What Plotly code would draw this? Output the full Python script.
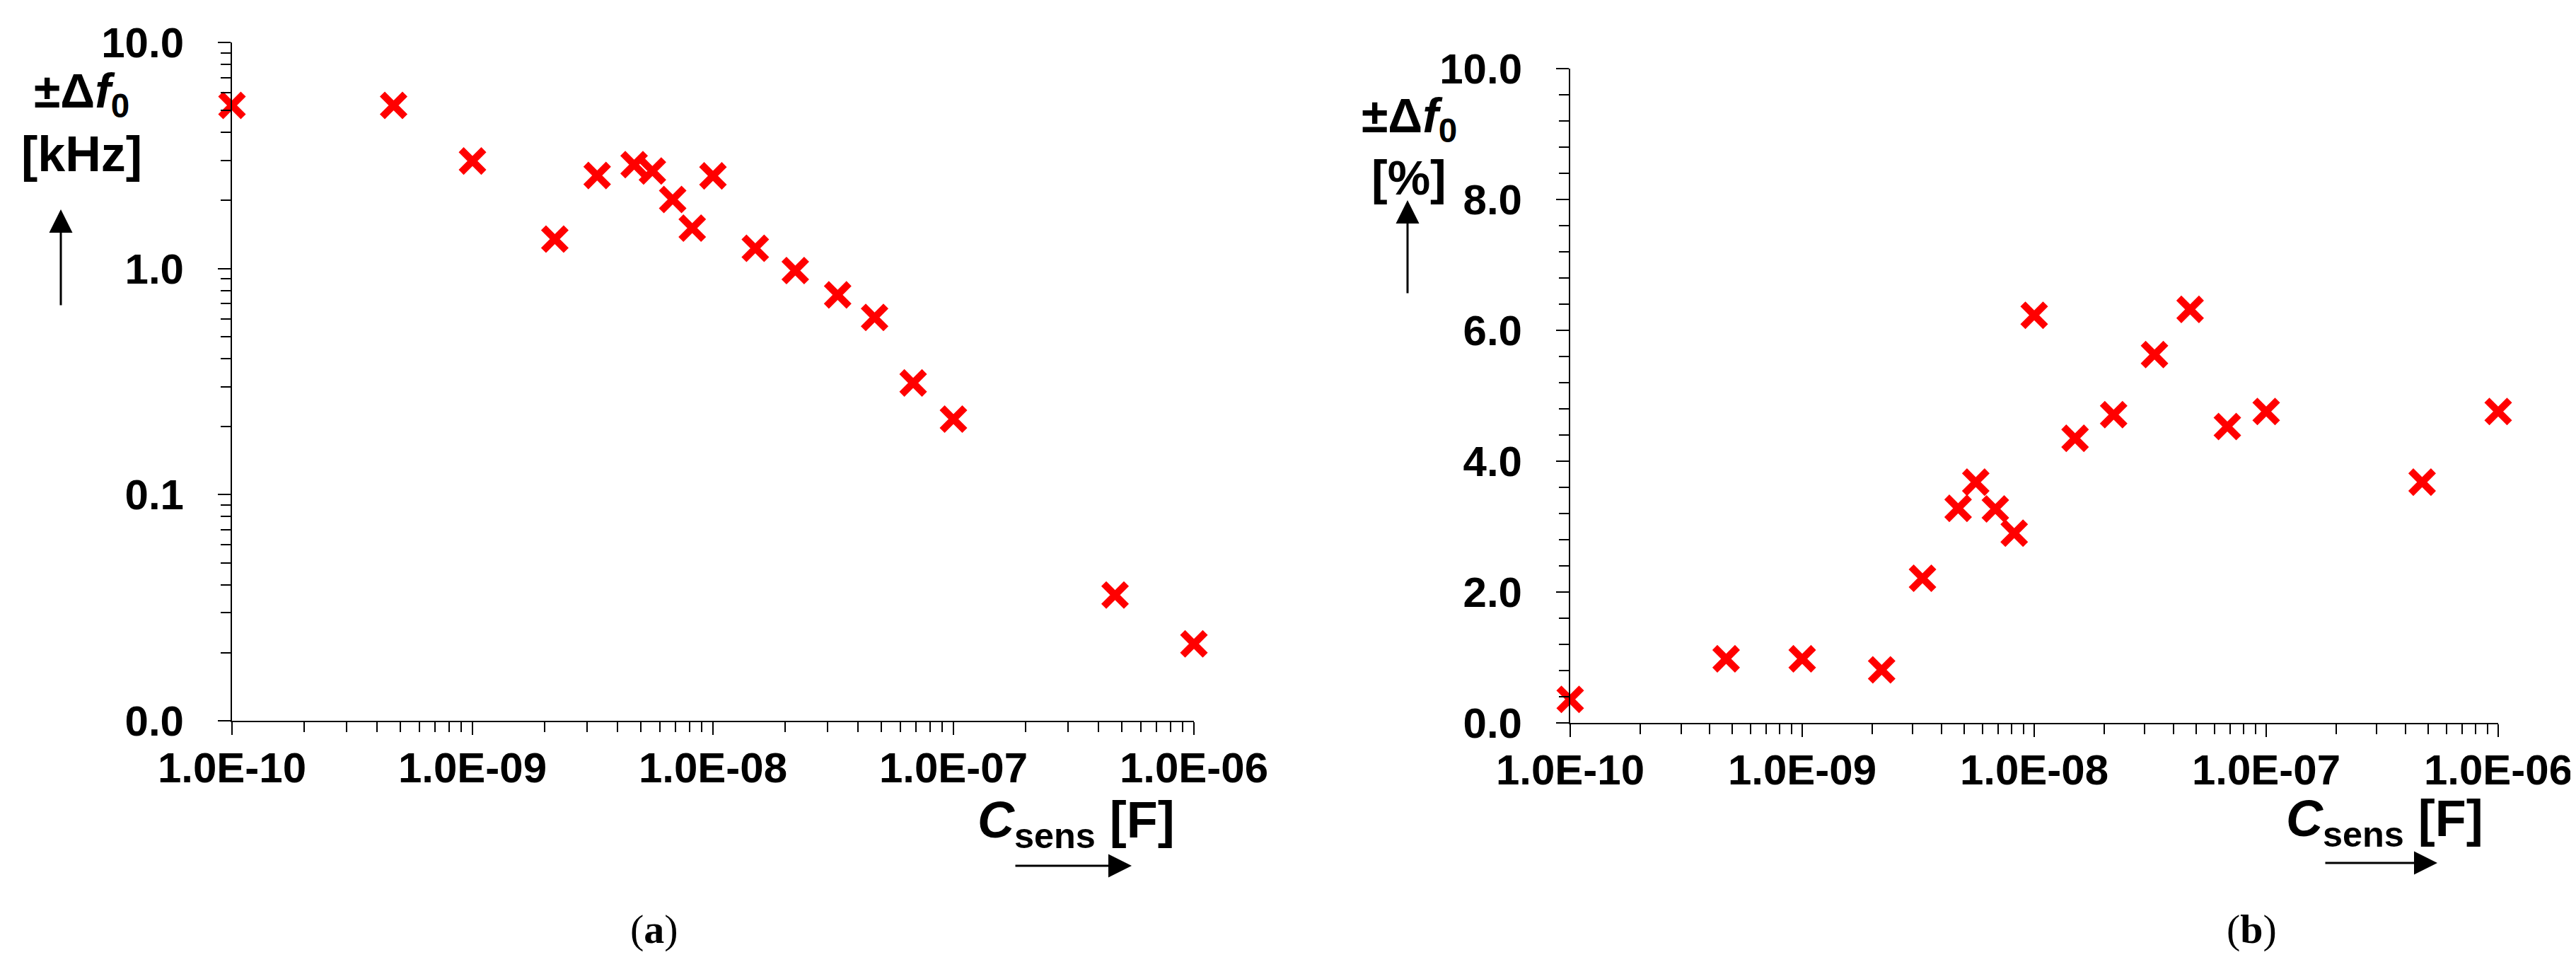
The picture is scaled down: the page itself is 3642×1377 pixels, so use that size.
import plotly.graph_objects as go

# Sensor capacitance values (same for both panels)
c_sens = [1e-10, 4.7e-10, 1e-9, 2.2e-9, 3.3e-9, 4.7e-9, 5.6e-9, 6.8e-9, 8.2e-9,
          1e-8, 1.5e-8, 2.2e-8, 3.3e-8, 4.7e-8, 6.8e-8, 1e-7, 4.7e-7, 1e-6]

# (a) frequency deviation in kHz
df_khz = [5.27, 5.27, 2.99, 1.35, 2.58, 2.88, 2.70, 2.02, 1.51,
          2.57, 1.23, 0.98, 0.765, 0.608, 0.312, 0.216, 0.036, 0.0219]

# (b) frequency deviation in %
df_pct = [0.36, 0.98, 0.98, 0.81, 2.21, 3.28, 3.68, 3.27, 2.90,
          6.23, 4.35, 4.71, 5.63, 6.32, 4.53, 4.76, 3.68, 4.76]

x_tickvals = [1e-10, 1e-9, 1e-8, 1e-7, 1e-6]
x_ticktext = ["1.0E-10", "1.0E-09", "1.0E-08", "1.0E-07", "1.0E-06"]
ya_tickvals = [0.01, 0.1, 1, 10]
ya_ticktext = ["0.0", "0.1", "1.0", "10.0"]

W, H = 3642, 1377
FONT = "Liberation Sans, Arial, sans-serif"
TICKFONT = dict(family=FONT, size=60, color="black", weight="bold")


def px_x(v):
    return v / W


def px_y(v):
    return 1 - v / H


marker = dict(symbol="x-thin", size=32, color="red",
              line=dict(color="red", width=10))

fig = go.Figure()
fig.add_trace(go.Scatter(x=c_sens, y=df_khz, mode="markers", marker=marker,
                         xaxis="x", yaxis="y", showlegend=False, cliponaxis=False))
fig.add_trace(go.Scatter(x=c_sens, y=df_pct, mode="markers", marker=marker,
                         xaxis="x2", yaxis="y2", showlegend=False, cliponaxis=False))

# common axis styling
axis_common = dict(
    showline=True, linecolor="black", linewidth=2,
    ticks="outside", ticklen=18, tickwidth=2, tickcolor="black",
    showgrid=False, zeroline=False, tickfont=TICKFONT, automargin=False,
)
minor_log = dict(ticks="outside", ticklen=14, tickwidth=2, tickcolor="black",
                 dtick="D1", showgrid=False)

# tiny pad on the upper end so the 1e-6 point is not culled
x_range = [-10, -5.99999]

fig.update_layout(
    width=W, height=H,
    margin=dict(l=0, r=0, t=0, b=0),
    paper_bgcolor="white", plot_bgcolor="white",
    xaxis=dict(axis_common, type="log", range=x_range,
               domain=[px_x(320), px_x(1680)], anchor="y",
               tickmode="array", tickvals=x_tickvals, ticktext=x_ticktext,
               minor=minor_log, ticklabelstandoff=-5),
    yaxis=dict(axis_common, type="log", range=[-2, 1],
               domain=[px_y(1011), px_y(52)], anchor="x",
               tickmode="array", tickvals=ya_tickvals, ticktext=ya_ticktext,
               minor=minor_log, ticklabelstandoff=36),
    xaxis2=dict(axis_common, type="log", range=x_range,
                domain=[px_x(2212), px_x(3524)], anchor="y2",
                tickmode="array", tickvals=x_tickvals, ticktext=x_ticktext,
                minor=minor_log, ticklabelstandoff=-5),
    yaxis2=dict(axis_common, range=[0, 10],
                domain=[px_y(1014), px_y(89)], anchor="x2",
                dtick=2, tickformat=".1f",
                minor=dict(ticks="outside", ticklen=14, tickwidth=2,
                           tickcolor="black", dtick=0.4, showgrid=False),
                ticklabelstandoff=36),
)

LABELFONT = dict(family=FONT, size=68, color="black", weight="bold")
CAPFONT = dict(family="Liberation Serif, serif", size=58, color="black")

labels = [
    ("±Δ<i>f</i><sub>0</sub>", 107, 125, LABELFONT),
    ("[kHz]", 107, 210, dict(LABELFONT, size=70)),
    ("±Δ<i>f</i><sub>0</sub>", 1984, 160, LABELFONT),
    ("[%]", 1984, 243, LABELFONT),
    ("<i>C</i><sub>sens</sub> [F]", 1513, 1156, dict(LABELFONT, size=72)),
    ("<i>C</i><sub>sens</sub> [F]", 3363, 1154, dict(LABELFONT, size=72)),
    ("(<b>a</b>)", 917, 1305, CAPFONT),
    ("(<b>b</b>)", 3175, 1305, CAPFONT),
]
for text, x, y, font in labels:
    fig.add_annotation(text=text, x=px_x(x), y=px_y(y), xref="paper", yref="paper",
                       xanchor="center", yanchor="middle", showarrow=False, font=font)

# direction arrows next to axis labels: (tip x, tip y, tail dx, tail dy) in px
arrows = [
    (78, 288, 0, 137),
    (1982, 275, 0, 133),
    (1592, 1216, -166, 0),
    (3438, 1212, -160, 0),
]
for x, y, ax, ay in arrows:
    fig.add_annotation(x=px_x(x), y=px_y(y), xref="paper", yref="paper",
                       ax=ax, ay=ay, axref="pixel", ayref="pixel", text="",
                       showarrow=True, arrowhead=2, arrowsize=2.2, arrowwidth=3,
                       arrowcolor="black")

fig.write_html("out.html")
